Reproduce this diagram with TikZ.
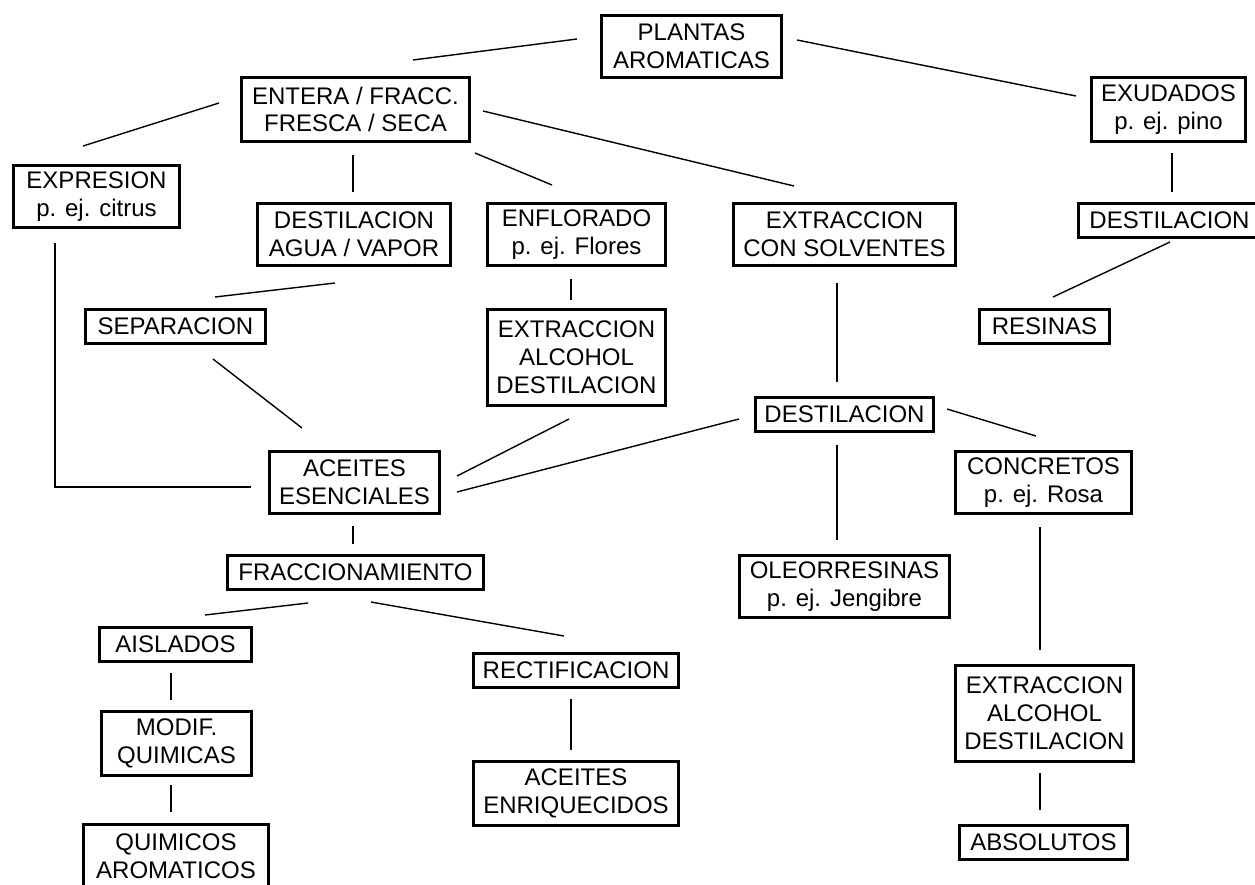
\documentclass[tikz,border=0pt]{standalone}
\usepackage{fontspec}
\setmainfont{Liberation Sans}
\usetikzlibrary{calc}
\begin{document}
\begin{tikzpicture}[x=1pt,y=-1pt,
  box/.style={draw=black, line width=2.6pt, rectangle, inner sep=0pt, align=center,
    font=\fontsize{24}{27.8}\selectfont},
  link/.style={draw=black, line width=1.4pt}]
\useasboundingbox (0,0) rectangle (1255,884);
% nodes
\node[box, minimum width=180.5pt, minimum height=62.5pt] (plantas) at (691.5,46.5) {PLANTAS\\AROMATICAS};
\node[box, minimum width=228.5pt, minimum height=64.5pt] (entera) at (355.5,109.5) {ENTERA / FRACC.\\FRESCA / SECA};
\node[box, minimum width=166.5pt, minimum height=62.5pt] (expresion) at (96.5,196.5) {EXPRESION\\p. ej. citrus};
\node[box, minimum width=193.5pt, minimum height=62.5pt] (destagua) at (354,234.5) {DESTILACION\\AGUA / VAPOR};
\node[box, minimum width=178.5pt, minimum height=62.5pt] (enflorado) at (576.5,234.5) {ENFLORADO\\p. ej. Flores};
\node[box, minimum width=222.5pt, minimum height=62.5pt] (extrsolv) at (844.5,234.5) {EXTRACCION\\CON SOLVENTES};
\node[box, minimum width=154.5pt, minimum height=64.5pt] (exudados) at (1168.5,109.5) {EXUDADOS\\p. ej. pino};
\node[box, minimum width=182.5pt, minimum height=34.5pt] (destR) at (1169.5,220.5) {DESTILACION};
\node[box, minimum width=180.5pt, minimum height=34.5pt] (separacion) at (175.5,326.5) {SEPARACION};
\node[box, minimum width=178.5pt, minimum height=96.5pt] (extralcL) at (576.5,357.5) {EXTRACCION\\ALCOHOL\\DESTILACION};
\node[box, minimum width=130.5pt, minimum height=34.5pt] (resinas) at (1044.5,326.5) {RESINAS};
\node[box, minimum width=178.5pt, minimum height=34.5pt] (destC) at (844.5,414.5) {DESTILACION};
\node[box, minimum width=170.5pt, minimum height=62.5pt] (aceites) at (354.5,482.5) {ACEITES\\ESENCIALES};
\node[box, minimum width=176.5pt, minimum height=62.5pt] (concretos) at (1043.5,482.5) {CONCRETOS\\p. ej. Rosa};
\node[box, minimum width=256.5pt, minimum height=34.5pt] (fracc) at (355.5,572.5) {FRACCIONAMIENTO};
\node[box, minimum width=210.5pt, minimum height=62.5pt] (oleo) at (844.5,586.5) {OLEORRESINAS\\p. ej. Jengibre};
\node[box, minimum width=152.5pt, minimum height=34.5pt] (aislados) at (175.5,644.5) {AISLADOS};
\node[box, minimum width=205.5pt, minimum height=34.5pt] (rectif) at (576,670.5) {RECTIFICACION};
\node[box, minimum width=150.5pt, minimum height=64.5pt] (modif) at (176.5,743.5) {MODIF.\\QUIMICAS};
\node[box, minimum width=178.5pt, minimum height=96.5pt] (extralcR) at (1044.5,713.5) {EXTRACCION\\ALCOHOL\\DESTILACION};
\node[box, minimum width=205.5pt, minimum height=64.5pt] (aceitesenr) at (576,793.5) {ACEITES\\ENRIQUECIDOS};
\node[box, minimum width=185.5pt, minimum height=63.5pt] (quimicos) at (176,856) {QUIMICOS\\AROMATICOS};
\node[box, minimum width=168.5pt, minimum height=34.5pt] (absolutos) at (1043.5,842.5) {ABSOLUTOS};
% connectors
\draw[link] ($(plantas)+(-114.5,-7.5)$) -- ($(entera)+(57.5,-49.5)$);
\draw[link] ($(entera)+(-136.5,-6.5)$) -- ($(expresion)+(-13.5,-50.5)$);
\draw[link] ($(entera)+(-2.5,45.5)$) -- ($(destagua)+(-1,-42.5)$);
\draw[link] ($(entera)+(119.5,43.5)$) -- ($(enflorado)+(-24.5,-49.5)$);
\draw[link] ($(entera)+(127.5,1.5)$) -- ($(extrsolv)+(-50.5,-48.5)$);
\draw[link] ($(plantas)+(105.5,-6.5)$) -- ($(exudados)+(-92.5,-13.5)$);
\draw[link] ($(exudados)+(3.5,43.5)$) -- ($(destR)+(2.5,-28.5)$);
\draw[link] ($(destR)+(0.5,21.5)$) -- ($(resinas)+(8.5,-29.5)$);
\draw[link] ($(expresion)+(-41.5,46.5)$) |- ($(aceites)+(-103.5,4.5)$);
\draw[link] ($(destagua)+(-19,48.5)$) -- ($(separacion)+(39.5,-29.5)$);
\draw[link] ($(enflorado)+(-5.5,44.5)$) -- ($(extralcL)+(-5.5,-57.5)$);
\draw[link] ($(separacion)+(37.5,32.5)$) -- ($(aceites)+(-52.5,-54.5)$);
\draw[link] ($(extralcL)+(-7.5,61.5)$) -- ($(aceites)+(102.5,-6.5)$);
\draw[link] ($(destC)+(-105.5,4.5)$) -- ($(aceites)+(102.5,9.5)$);
\draw[link] ($(aceites)+(-1.5,43.5)$) -- ($(fracc)+(-2.5,-28.5)$);
\draw[link] ($(extrsolv)+(-7.5,48.5)$) -- ($(destC)+(-7.5,-32.5)$);
\draw[link] ($(destC)+(102.5,-5.5)$) -- ($(concretos)+(-7.5,-46.5)$);
\draw[link] ($(destC)+(-7.5,30.5)$) -- ($(oleo)+(-7.5,-46.5)$);
\draw[link] ($(concretos)+(-3.5,44.5)$) -- ($(extralcR)+(-4.5,-63.5)$);
\draw[link] ($(fracc)+(-47.5,30.5)$) -- ($(aislados)+(29.5,-29.5)$);
\draw[link] ($(fracc)+(15.5,29.5)$) -- ($(rectif)+(-12,-34.5)$);
\draw[link] ($(aislados)+(-4.5,28.5)$) -- ($(modif)+(-5.5,-43.5)$);
\draw[link] ($(modif)+(-5.5,41.5)$) -- ($(quimicos)+(-5,-44)$);
\draw[link] ($(rectif)+(-5,28.5)$) -- ($(aceitesenr)+(-5,-43.5)$);
\draw[link] ($(extralcR)+(-4.5,59.5)$) -- ($(absolutos)+(-3.5,-32.5)$);
\end{tikzpicture}
\end{document}
